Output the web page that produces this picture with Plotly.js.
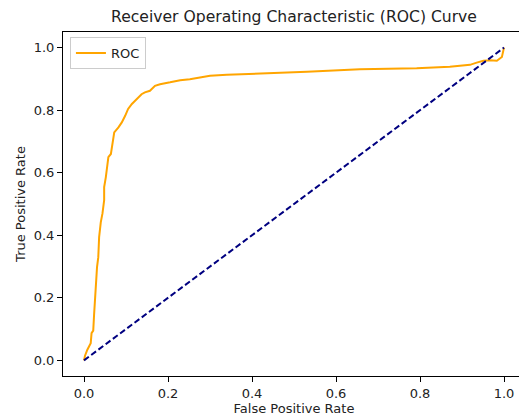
<!DOCTYPE html>
<html>
<head>
<meta charset="utf-8">
<script src="https://cdn.plot.ly/plotly-3.0.1.min.js"></script>
<style>
html, body { margin: 0; padding: 0; overflow: hidden; background: #fff; }
#chart { width: 530px; height: 416px; }
</style>
</head>
<body>
<div id="chart"></div>
<script>
// ROC curve values
const fpr = [0, 0.0024, 0.008, 0.0126, 0.016, 0.018, 0.022, 0.024, 0.026, 0.029, 0.031, 0.034, 0.036, 0.040, 0.044, 0.048, 0.048, 0.052, 0.058, 0.064, 0.070, 0.072, 0.082, 0.090, 0.098, 0.105, 0.114, 0.125, 0.137, 0.145, 0.157, 0.169, 0.181, 0.205, 0.229, 0.252, 0.276, 0.300, 0.340, 0.402, 0.436, 0.531, 0.657, 0.792, 0.871, 0.919, 0.935, 0.951, 0.967, 0.983, 0.995, 1.0];
const tpr = [0, 0.015, 0.034, 0.045, 0.055, 0.087, 0.095, 0.146, 0.193, 0.235, 0.298, 0.330, 0.394, 0.442, 0.470, 0.512, 0.554, 0.586, 0.650, 0.660, 0.708, 0.729, 0.745, 0.761, 0.782, 0.804, 0.820, 0.836, 0.851, 0.857, 0.862, 0.878, 0.883, 0.889, 0.896, 0.899, 0.904, 0.910, 0.913, 0.917, 0.919, 0.923, 0.931, 0.934, 0.939, 0.945, 0.952, 0.958, 0.960, 0.958, 0.970, 1.0];
const diagX = [0, 1];
const diagY = [0, 1];
const tickVals = [0, 0.2, 0.4, 0.6, 0.8, 1.0];
const tickText = ["0.0", "0.2", "0.4", "0.6", "0.8", "1.0"];

const font = "DejaVu Sans, sans-serif";

const traces = [
  {
    x: fpr, y: tpr, type: "scatter", mode: "lines", name: "ROC",
    line: { color: "orange", width: 2 }
  },
  {
    x: diagX, y: diagY, type: "scatter", mode: "lines", showlegend: false,
    line: { color: "navy", width: 2, dash: "6px,3px" }
  }
];

const axisBase = {
  showgrid: false, zeroline: false, showline: true, mirror: true,
  linecolor: "#000", linewidth: 1, ticks: "outside", ticklen: 5, tickwidth: 1,
  tickcolor: "#000", tickfont: { family: font, size: 13, color: "#222" },
  tickmode: "array", tickvals: tickVals, ticktext: tickText
};

const layout = {
  width: 530, height: 416,
  margin: { l: 63, r: 5, t: 32, b: 40 },
  paper_bgcolor: "#fff", plot_bgcolor: "#fff",
  font: { family: font, color: "#222" },
  title: {
    text: "Receiver Operating Characteristic (ROC) Curve",
    font: { family: font, size: 15.6, color: "#222" },
    x: 0.5, xref: "paper", xanchor: "center", y: 0.96, yanchor: "middle"
  },
  xaxis: Object.assign({}, axisBase, {
    range: [-0.05, 1.05],
    title: { text: "False Positive Rate", font: { family: font, size: 13, color: "#222" }, standoff: 4 }
  }),
  yaxis: Object.assign({}, axisBase, {
    range: [-0.05, 1.05],
    title: { text: "True Positive Rate", font: { family: font, size: 13, color: "#222" }, standoff: 5 }
  }),
  showlegend: true,
  legend: {
    x: 0.015, y: 0.985, xanchor: "left", yanchor: "top",
    bgcolor: "rgba(255,255,255,0.8)", bordercolor: "#cccccc", borderwidth: 1,
    font: { family: font, size: 13, color: "#222" },
    itemwidth: 30
  }
};

Plotly.newPlot("chart", traces, layout, { displayModeBar: false, staticPlot: true });
</script>
</body>
</html>
